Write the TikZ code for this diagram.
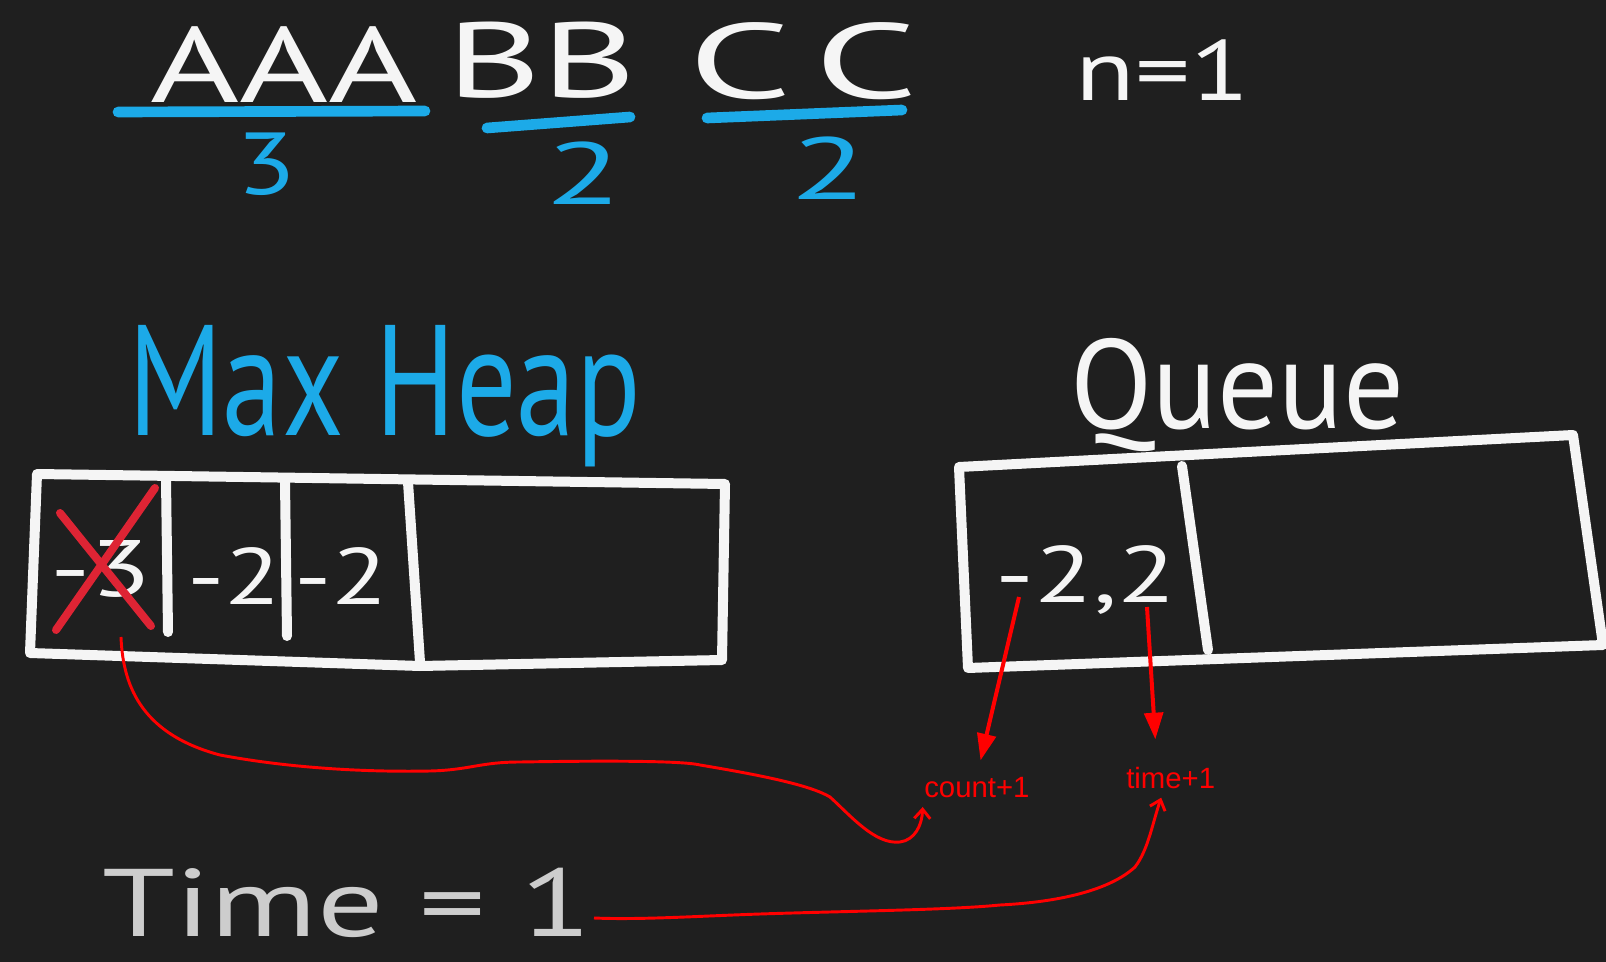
\documentclass[tikz,border=0pt]{standalone}
\usepackage{fontspec}
\setmainfont{Liberation Sans}
\newfontfamily\handfont{PT Sans}
\usetikzlibrary{arrows.meta,calc}

\definecolor{board}{RGB}{31,31,31}
\definecolor{chalk}{RGB}{245,245,245}
\definecolor{dimchalk}{RGB}{205,205,205}
\definecolor{marker}{RGB}{28,170,232}
\definecolor{cross}{RGB}{222,36,52}
\definecolor{pen}{RGB}{255,0,0}

% hand written text: horizontal stretch, size, text
\newcommand{\handtext}[3]{\scalebox{#1}[1]{\handfont\fontsize{#2}{#2}\selectfont #3}}

\tikzset{
  chalk text/.style={text=chalk, anchor=north west, inner sep=0pt},
  ink text/.style={text=marker, anchor=north west, inner sep=0pt},
  pen text/.style={text=pen, anchor=north west, inner sep=0.75pt, font=\fontsize{22}{22}\selectfont},
  box line/.style={draw=chalk, line width=7.5pt, line join=round, line cap=round},
  under line/.style={draw=marker, line width=8pt, line cap=round},
  pen arrow/.style={draw=pen, line width=3pt, -{Triangle[length=20pt,width=14pt]}},
  pen curve/.style={draw=pen, line width=2.2pt, -{Straight Barb[length=7pt,width=12pt]}},
}

\begin{document}
\begin{tikzpicture}[x=0.75pt,y=0.75pt,yscale=-1,xscale=1]
\useasboundingbox (0,0) rectangle (1606,962);

%Shape: Rectangle [id:dp1830275519384426] 
\fill [board] (0,0) -- (1606,0) -- (1606,962) -- (0,962) -- cycle ;

% Text Node
\draw (150,26) node [chalk text] (aaa) {\handtext{1.43}{80}{AAA}};
% Text Node
\draw (446,22) node [chalk text] (bb) {\handtext{1.53}{80}{BB}};
% Text Node
\draw (688,22) node [chalk text] (cc) {\handtext{1.7}{80}{C\kern10pt C}};
% Text Node
\draw (1075,39) node [chalk text] (n) {\handtext{1.28}{64}{n=1}};

%Straight Lines [id:da5270438816203614] 
\draw [under line] (118,112) -- (425,111) ;
%Straight Lines [id:da8841370529176053] 
\draw [under line] (487,128) -- (630,117) ;
%Straight Lines [id:da0416628309573128] 
\draw [under line] (707,118) -- (902,110) ;

% Text Node
\draw (236,133) node [ink text] (ca) {\handtext{1.25}{66}{3}};
% Text Node
\draw (545,142) node [ink text] (cb) {\handtext{1.6}{66}{2}};
% Text Node
\draw (790,137) node [ink text] (cc) {\handtext{1.6}{66}{2}};

% Text Node
\draw (128,325) node [ink text] (heap) {\handtext{0.76}{118}{Max Heap}};
% Text Node
\draw (1070,338) node [chalk text] (queue) {\handtext{0.95}{95}{Queue}};

%Shape: Rectangle [id:dp6642019375120834] 
\draw [box line] (37,474) -- (725,484) -- (722,660) -- (420,666) -- (30,653) -- cycle ;
%Straight Lines [id:da3319570275046812] 
\draw [box line] (166,479) -- (168,632) ;
%Straight Lines [id:da7250183364990412] 
\draw [box line] (285,481) -- (287,636) ;
%Straight Lines [id:da9102846335870271] 
\draw [box line] (408,482) -- (420,662) ;

%Shape: Rectangle [id:dp2957730461189347] 
\draw [box line] (959,467) -- (1573,435) -- (1603,645) -- (968,668) -- cycle ;
%Straight Lines [id:da4478102936617705] 
\draw [box line] (1182,466) -- (1208,650) ;

% Text Node
\draw (50,540) node [chalk text] (h1) {\handtext{1.4}{60}{-3}};
% Text Node
\draw (187,547) node [chalk text] (h2) {\handtext{1.3}{60}{-2}};
% Text Node
\draw (294,547) node [chalk text] (h3) {\handtext{1.3}{60}{-2}};
% Text Node
\draw (995,545) node [chalk text] (q1) {\handtext{1.35}{60}{-2,2}};

%Straight Lines [id:da1185203467912054] 
\draw [draw=cross, line width=6pt, line cap=round] (155,488) -- (56,630) ;
%Straight Lines [id:da6093418725573310] 
\draw [draw=cross, line width=6pt, line cap=round] (60,513) -- (151,626) ;

% Text Node
\draw (923,776) node [pen text] (count) {count+1};
% Text Node
\draw (1125,766) node [pen text] (time) {time+1};

% Text Node
\draw (102,868) node [anchor=north west][inner sep=0pt] [text=dimchalk] (tm) {\handtext{1.37}{72}{Time = 1}};

\coordinate (x1) at (121,637) ;
\coordinate (q1l) at (1019,597) ;
\coordinate (q1r) at (1147,607) ;
\coordinate (t1) at (594,918) ;

%Straight Lines [id:da3640271958014427] 
\draw [pen arrow, shorten >=12pt] (q1l) -- (count.north) ;
%Straight Lines [id:da7798240353106615] 
\draw [pen arrow, shorten >=20pt] (q1r) -- ($(time.north)!0.3!(time.north west)$) ;

%Curve Lines [id:da2068847127753590] 
\draw [pen curve, shorten >=6pt] (x1) .. controls (123,690) and (145,735) .. (220,755) .. controls (300,770) and (380,772) .. (430,771) .. controls (470,770) and (480,762) .. (520,762) .. controls (580,761) and (680,760) .. (700,765) .. controls (760,775) and (810,785) .. (830,797) .. controls (850,815) and (875,845) .. (900,842) .. controls (915,840) and (922,825) .. (count.south west) ;
%Curve Lines [id:da5512068739914406] 
\draw [pen curve, shorten >=6pt] (t1) .. controls (640,920) and (700,916) .. (760,914) .. controls (850,911) and (950,910) .. (1000,905) .. controls (1060,902) and (1110,890) .. (1135,867) .. controls (1148,850) and (1152,825) .. (time.-120) ;

\end{tikzpicture}
\end{document}
